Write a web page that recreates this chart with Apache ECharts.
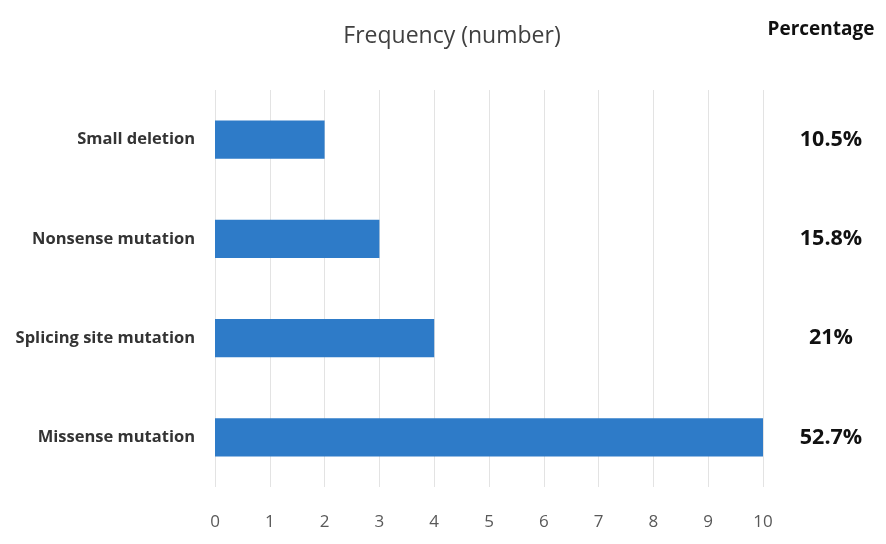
<!DOCTYPE html>
<html><head><meta charset="utf-8">
<script src="https://cdn.jsdelivr.net/npm/echarts@6/dist/echarts.min.js"></script>
<style>html,body{margin:0;padding:0;background:#fff}#c{width:886px;height:544px}</style>
</head><body><div id="c"></div>
<script>
const categories = ['Missense mutation', 'Splicing site mutation', 'Nonsense mutation', 'Small deletion'];
const frequency = [10, 4, 3, 2];
const percentages = ['52.7%', '21%', '15.8%', '10.5%'];
const xTicks = [0, 1, 2, 3, 4, 5, 6, 7, 8, 9, 10];

const FONT = '"Open Sans", sans-serif';
const chart = echarts.init(document.getElementById('c'));
chart.setOption({
  backgroundColor: '#fff',
  animation: false,
  title: [
    { text: 'Frequency (number)', left: 447, top: 20, textAlign: 'center',
      textStyle: { fontFamily: FONT, fontSize: 23, fontWeight: 'normal', color: '#404040' } },
    { text: 'Percentage', left: 816, top: 15, textAlign: 'center',
      textStyle: { fontFamily: FONT, fontSize: 19, fontWeight: 'bold', color: '#111' } }
  ],
  grid: { left: 215, right: 123, top: 90, bottom: 57, containLabel: false },
  xAxis: {
    type: 'value', min: xTicks[0], max: xTicks[xTicks.length - 1], interval: 1,
    axisLine: { show: false }, axisTick: { show: false },
    axisLabel: { margin: 27, fontFamily: FONT, fontSize: 17, color: '#595959' },
    splitLine: { show: true, lineStyle: { color: '#e3e3e3', width: 1 } }
  },
  yAxis: [
    { type: 'category', data: categories,
      axisLine: { show: false }, axisTick: { show: false },
      axisLabel: { margin: 20, fontFamily: FONT, fontSize: 16.5, fontWeight: 'bold', color: '#333' } },
    { type: 'category', data: percentages, position: 'right',
      axisLine: { show: false }, axisTick: { show: false },
      axisLabel: { margin: 68, align: 'center', fontFamily: FONT, fontSize: 21.5, fontWeight: 'bold', color: '#111' } }
  ],
  series: [{
    type: 'bar', data: frequency, yAxisIndex: 0, barWidth: '38.5%',
    itemStyle: { color: '#2E7BC8' }
  }]
});
</script></body></html>
